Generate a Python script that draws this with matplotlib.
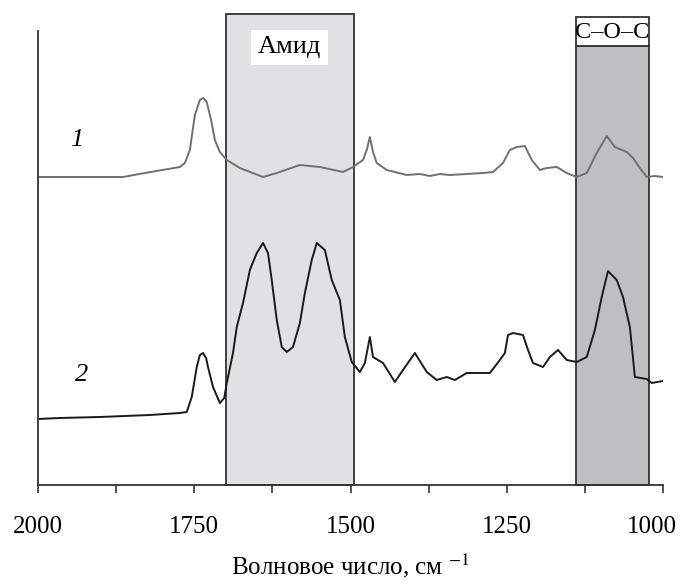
import matplotlib
matplotlib.use("Agg")
import matplotlib.pyplot as plt
from matplotlib.patches import Rectangle
from matplotlib.transforms import ScaledTranslation

plt.rcParams["font.family"] = ["Liberation Serif", "DejaVu Serif"]
plt.rcParams["mathtext.fontset"] = "stix"

# IR spectra (wavenumber, cm-1 / intensity, a.u.)
wn_1 = [2000, 1864, 1829, 1773, 1765, 1757, 1749, 1741, 1736, 1730, 1723, 1717,
        1709, 1698, 1677, 1640, 1618, 1581, 1549, 1512, 1496, 1480, 1474, 1469,
        1464, 1458, 1442, 1410, 1389, 1373, 1357, 1341, 1288, 1272, 1256, 1245,
        1234, 1221, 1210, 1197, 1186, 1170, 1154, 1138, 1122, 1106, 1090, 1077,
        1058, 1048, 1037, 1026, 1013, 1000]
int_1 = [3.08, 3.08, 3.12, 3.18, 3.22, 3.35, 3.70, 3.85, 3.87, 3.83, 3.65, 3.45,
         3.33, 3.25, 3.17, 3.08, 3.12, 3.20, 3.18, 3.13, 3.18, 3.25, 3.35, 3.48,
         3.33, 3.22, 3.15, 3.10, 3.11, 3.09, 3.11, 3.10, 3.12, 3.13, 3.22, 3.35,
         3.38, 3.39, 3.25, 3.15, 3.17, 3.18, 3.12, 3.08, 3.12, 3.32, 3.49, 3.38,
         3.33, 3.27, 3.17, 3.08, 3.09, 3.08]

wn_2 = [2000, 1965, 1901, 1821, 1773, 1762, 1754, 1746, 1741, 1736, 1731, 1728,
        1720, 1709, 1702, 1698, 1688, 1682, 1672, 1661, 1650, 1640, 1632, 1626,
        1618, 1610, 1602, 1592, 1581, 1573, 1562, 1554, 1541, 1530, 1517, 1509,
        1498, 1485, 1477, 1469, 1464, 1448, 1429, 1416, 1397, 1378, 1362, 1346,
        1333, 1314, 1277, 1261, 1253, 1248, 1240, 1224, 1216, 1208, 1192, 1181,
        1168, 1154, 1138, 1122, 1109, 1098, 1088, 1074, 1064, 1053, 1045, 1026,
        1018, 1000]
int_2 = [0.66, 0.67, 0.68, 0.70, 0.72, 0.73, 0.88, 1.18, 1.30, 1.32, 1.27, 1.18,
         0.98, 0.82, 0.87, 1.02, 1.32, 1.58, 1.82, 2.15, 2.32, 2.42, 2.32, 2.05,
         1.65, 1.38, 1.33, 1.38, 1.62, 1.92, 2.25, 2.42, 2.35, 2.05, 1.85, 1.48,
         1.23, 1.13, 1.22, 1.48, 1.28, 1.22, 1.03, 1.15, 1.32, 1.13, 1.05, 1.08,
         1.05, 1.12, 1.12, 1.25, 1.32, 1.50, 1.52, 1.50, 1.35, 1.22, 1.18, 1.28,
         1.35, 1.25, 1.23, 1.28, 1.55, 1.88, 2.14, 2.05, 1.88, 1.58, 1.08, 1.06,
         1.02, 1.04]

# marked bands
amide_band = (1700, 1495)
coc_band = (1140, 1023)

fig = plt.figure(figsize=(6.8, 5.87), dpi=100)
ax = fig.add_axes([38 / 680, 102 / 587, 625 / 680, 454 / 587])
ax.set_xlim(2000, 1000)
ax.set_ylim(0, 4.54)

edge = "#333333"

# Amide band
ax.add_patch(Rectangle((amide_band[1], 0), amide_band[0] - amide_band[1], 4.71,
                       facecolor="#e0e1e3", edgecolor=edge, lw=1.3,
                       clip_on=False, zorder=1))
ax.text(sum(amide_band) / 2, 4.375, "Амид", fontsize=19, ha="center", va="center",
        bbox=dict(boxstyle="square,pad=0.25", facecolor="white", edgecolor="none"),
        zorder=3)

# C-O-C band with white label strip on top
ax.add_patch(Rectangle((coc_band[1], 0), coc_band[0] - coc_band[1], 4.39,
                       facecolor="#bebfc1", edgecolor=edge, lw=1.3,
                       clip_on=False, zorder=1))
ax.add_patch(Rectangle((coc_band[1], 4.39), coc_band[0] - coc_band[1], 0.29,
                       facecolor="white", edgecolor=edge, lw=1.3,
                       clip_on=False, zorder=1))
ax.text(sum(coc_band) / 2, 4.52, "C–O–C", fontsize=17.5, ha="center", va="center",
        zorder=3)

ax.plot(wn_1, int_1, color="#707070", lw=1.4, zorder=2)
ax.plot(wn_2, int_2, color="#1a1a1a", lw=1.4, zorder=2)

ax.text(1938, 3.45, "1", fontsize=19, style="italic", ha="center", va="center")
ax.text(1931, 1.10, "2", fontsize=19, style="italic", ha="center", va="center")

for s in ["top", "right"]:
    ax.spines[s].set_visible(False)
for s in ["left", "bottom"]:
    ax.spines[s].set_color(edge)
    ax.spines[s].set_linewidth(1.3)

ax.set_xticks([2000, 1750, 1500, 1250, 1000])
ax.set_xticks([1875, 1625, 1375, 1125], minor=True)
ax.tick_params(axis="x", which="both", direction="out", length=6, width=1.2,
               color=edge, labelsize=18, pad=16)
ax.set_yticks([])
ax.set_xlabel("Волновое число, см $^{-1}$", fontsize=18, labelpad=10)

# last label sits a bit left of its tick, as in the original
last = ax.get_xticklabels()[-1]
last.set_transform(last.get_transform() + ScaledTranslation(-0.11, 0, fig.dpi_scale_trans))

fig.savefig("out.png", dpi=100)
